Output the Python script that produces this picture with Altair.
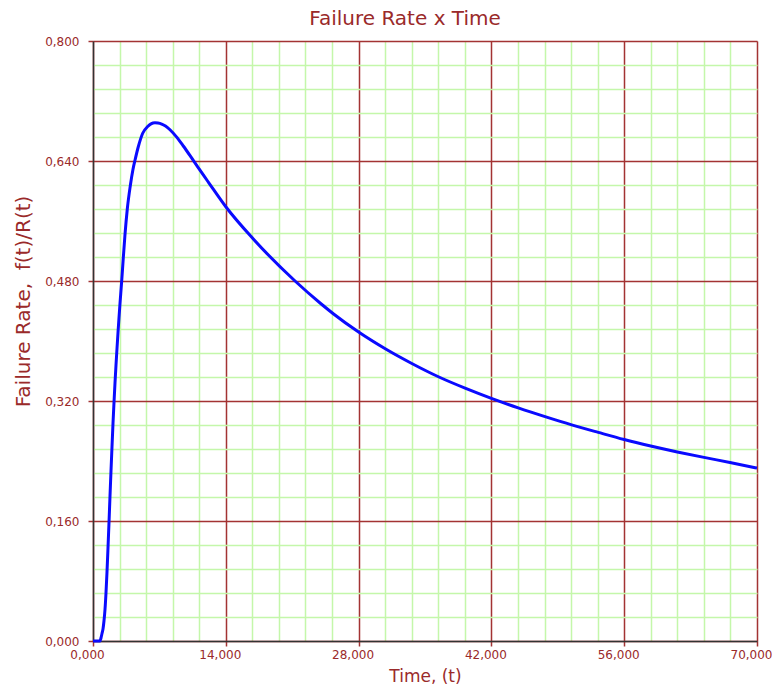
import altair as alt
import pandas as pd

# Hazard curve: time (t) against failure rate f(t)/R(t)
time_t = [0, 738, 843, 949, 1054, 1160, 1265, 1370, 1476, 1581, 1687, 1792,
          1898, 2003, 2108, 2214, 2319, 2425, 2530, 2635, 2741, 2846, 3025,
          3194, 3373, 3616, 3932, 4217, 4427, 4775, 5239, 5766, 6114, 6536,
          6853, 7243, 7643, 8117, 8824, 9519, 10573, 11628, 12155, 14000,
          16900, 21300, 24000, 25330, 28000, 30900, 33660, 36470, 39290,
          42000, 44830, 47820, 50460, 53270, 56000, 58790, 61600, 64410,
          67150, 70000]
failure_rate = [0.0, 0.0, 0.004, 0.010, 0.016, 0.027, 0.042, 0.064, 0.092,
                0.124, 0.158, 0.193, 0.227, 0.259, 0.290, 0.318, 0.344, 0.368,
                0.390, 0.411, 0.431, 0.450, 0.480, 0.511, 0.542, 0.576, 0.607,
                0.629, 0.641, 0.659, 0.677, 0.686, 0.6895, 0.691, 0.6907,
                0.6893, 0.6866, 0.6817, 0.6718, 0.660, 0.6408, 0.6214, 0.6119,
                0.579, 0.536, 0.480, 0.450, 0.4364, 0.412, 0.389, 0.3697,
                0.352, 0.3368, 0.3235, 0.3108, 0.2985, 0.2882, 0.2781, 0.2686,
                0.2600, 0.2521, 0.2448, 0.2380, 0.2306]

# Grid: five minor divisions between each labelled tick
x_major = [0, 14000, 28000, 42000, 56000, 70000]
y_major = [0.0, 0.16, 0.32, 0.48, 0.64, 0.80]
x_grid = [i * 2800 for i in range(26)]
y_grid = [round(i * 0.032, 3) for i in range(26)]

DARK_RED = "#9a2a2a"
MAJOR = "#a33333"
MINOR = "#c4f7aa"
FONT = "DejaVu Sans"

df = pd.DataFrame({"t": time_t, "rate": failure_rate})

x_is_major = "datum.value % 14000 === 0"
y_is_major = "abs(datum.value / 0.16 - round(datum.value / 0.16)) < 0.001"

x_axis = alt.Axis(
    values=x_grid,
    title="Time, (t)",
    titleFont=FONT, titleFontSize=17, titleFontWeight="normal",
    titleColor=DARK_RED, titlePadding=8,
    labelExpr=f"({x_is_major}) ? replace(format(datum.value / 1000, '.3f'), '.', ',') : ''",
    labelFont=FONT, labelFontSize=12, labelColor=DARK_RED,
    labelPadding=3, labelOffset=-6, labelOverlap=False, labelFlush=False,
    grid=True,
    gridColor={"condition": {"test": x_is_major, "value": MAJOR}, "value": MINOR},
    gridWidth=1.5,
    ticks=True, tickSize=5, tickWidth=1.5,
    tickColor={"condition": {"test": x_is_major, "value": MAJOR}, "value": "transparent"},
    domainColor="#333333", domainWidth=1.5,
)

y_axis = alt.Axis(
    values=y_grid,
    title="Failure Rate,\u00a0\u00a0f(t)/R(t)",
    titleFont=FONT, titleFontSize=20, titleFontWeight="normal",
    titleColor=DARK_RED, titleAngle=-90,
    titleX=-70, titleY=260, titleAlign="center", titleBaseline="middle",
    labelExpr=f"({y_is_major}) ? replace(format(datum.value, '.3f'), '.', ',') : ''",
    labelFont=FONT, labelFontSize=12, labelColor=DARK_RED,
    labelPadding=9, labelOverlap=False, labelFlush=False,
    grid=True,
    gridColor={"condition": {"test": y_is_major, "value": MAJOR}, "value": MINOR},
    gridWidth=1.5,
    ticks=True, tickSize=5, tickWidth=1.5,
    tickColor={"condition": {"test": y_is_major, "value": MAJOR}, "value": "transparent"},
    domainColor="#333333", domainWidth=1.5,
)

chart = (
    alt.Chart(df)
    .mark_line(color="#0a0aff", strokeWidth=3, interpolate="monotone")
    .encode(
        x=alt.X("t:Q", scale=alt.Scale(domain=[0, 70000], nice=False, zero=False), axis=x_axis),
        y=alt.Y("rate:Q", scale=alt.Scale(domain=[0, 0.8], nice=False), axis=y_axis),
    )
    .properties(
        width=664,
        height=600,
        title=alt.TitleParams(
            "Failure Rate x Time",
            font=FONT, fontSize=20, fontWeight="normal", color=DARK_RED,
            anchor="middle", frame="group", offset=6, dx=-20,
        ),
        padding={"left": 93, "top": 41, "right": 15, "bottom": 48},
        autosize=alt.AutoSizeParams(type="none"),
    )
    .configure_view(stroke="#333333", strokeWidth=1.5)
    .configure(background="white")
)

chart.save("out.html", embed_options={"renderer": "svg", "actions": False})
